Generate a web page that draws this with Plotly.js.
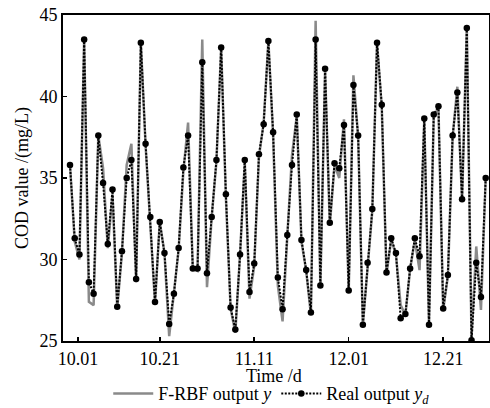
<!DOCTYPE html>
<html>
<head>
<meta charset="utf-8">
<script src="https://cdn.plot.ly/plotly-3.0.1.min.js"></script>
<style>html,body{margin:0;padding:0;background:#fff;}#chart{width:490px;height:408px;}</style>
</head>
<body>
<div id="chart"></div>
<script>
// sample index (day number from 10.01)
const days = Array.from({length: 89}, (_, i) => i);

// Real output y_d (mg/L)
const realOutput = [
  35.8, 31.3, 30.3, 43.5, 28.6, 27.9, 37.6, 34.7, 30.95, 34.3,
  27.1, 30.5, 35.0, 36.1, 28.8, 43.3, 37.1, 32.6, 27.4, 32.3,
  30.4, 26.05, 27.9, 30.7, 35.65, 37.6, 29.45, 29.45, 42.1, 29.15,
  32.6, 36.1, 43.0, 34.0, 27.05, 25.7, 30.3, 36.1, 28.0, 29.75,
  36.45, 38.3, 43.4, 37.8, 28.9, 26.95, 31.5, 35.8, 38.9, 31.2,
  29.35, 26.75, 43.5, 28.4, 41.7, 32.25, 35.9, 35.6, 38.25, 28.1,
  40.7, 37.6, 26.0, 29.8, 33.1, 43.3, 39.5, 29.2, 31.3, 30.4,
  26.4, 26.65, 29.45, 31.3, 30.2, 38.65, 26.0, 38.9, 39.4, 27.0,
  29.05, 37.6, 40.25, 33.7, 44.2, 25.05, 29.8, 27.7, 35.0
];

// F-RBF output y (mg/L)
const frbfOutput = [
  35.8, 31.1, 30.0, 43.5, 27.4, 27.2, 37.6, 35.6, 30.7, 34.0,
  27.0, 30.4, 35.8, 37.1, 28.6, 43.3, 37.0, 32.4, 27.3, 32.3,
  30.4, 25.3, 27.8, 30.6, 35.4, 38.4, 29.4, 29.3, 43.5, 28.3,
  32.6, 36.0, 43.0, 33.8, 27.0, 25.5, 30.3, 36.0, 27.6, 29.6,
  36.3, 38.4, 43.4, 37.6, 28.4, 26.2, 31.4, 36.4, 38.8, 31.1,
  29.3, 26.6, 44.65, 28.3, 41.6, 32.1, 35.8, 35.0, 38.6, 28.0,
  41.3, 37.5, 26.0, 29.5, 33.0, 43.3, 39.3, 29.1, 31.2, 30.3,
  27.2, 26.6, 29.4, 31.2, 29.35, 38.6, 26.0, 38.8, 39.3, 26.9,
  29.0, 37.5, 40.6, 33.6, 44.2, 25.2, 30.8, 26.9, 35.0
];

const tickPositions = [1.7, 19, 39, 59, 79];
const tickLabels = ['10.01', '10.21', '11.11', '12.01', '12.21'];
const yTicks = [25, 30, 35, 40, 45];
const xTitle = 'Time /d';
const yTitle = 'COD value /(mg/L)';

const serif = 'Liberation Serif, Times New Roman, serif';

const traces = [
  {
    x: days, y: frbfOutput, type: 'scatter', mode: 'lines',
    name: 'F-RBF output <i>y</i>',
    line: {color: '#8a8a8a', width: 2.5},
  },
  {
    x: days, y: realOutput, type: 'scatter', mode: 'lines+markers',
    name: 'Real output <i>y</i><sub><i>d</i></sub>',
    line: {color: '#000000', width: 2, dash: '2px,1.5px'},
    marker: {color: '#000000', size: 6.5, symbol: 'circle'},
  }
];

const layout = {
  width: 490, height: 408,
  margin: {l: 63, r: 1, t: 15, b: 67},
  paper_bgcolor: '#ffffff', plot_bgcolor: '#ffffff',
  font: {family: serif, size: 18, color: '#000'},
  showlegend: true,
  legend: {
    orientation: 'h', xref: 'paper', x: 0.49, xanchor: 'center',
    yref: 'container', y: 0.035, yanchor: 'middle',
    font: {family: serif, size: 18, color: '#000'},
    bgcolor: 'rgba(0,0,0,0)', itemwidth: 40, tracegroupgap: 0,
  },
  annotations: [{
    text: xTitle, xref: 'paper', yref: 'paper', x: 0.495, y: -0.108,
    xanchor: 'center', yanchor: 'middle', showarrow: false,
    font: {family: serif, size: 18, color: '#000'},
  }],
  xaxis: {
    range: [-1.48, 88.7],
    tickmode: 'array', tickvals: tickPositions, ticktext: tickLabels,
    ticks: 'inside', ticklen: 4, tickwidth: 1.5, tickcolor: '#000',
    showline: true, linecolor: '#000', linewidth: 2, mirror: true,
    showgrid: false, zeroline: false,
    tickfont: {family: serif, size: 18, color: '#000'},
  },
  yaxis: {
    range: [25, 45],
    tickmode: 'array', tickvals: yTicks,
    ticks: 'inside', ticklen: 4, tickwidth: 1.5, tickcolor: '#000',
    showline: true, linecolor: '#000', linewidth: 2, mirror: true,
    showgrid: false, zeroline: false,
    tickfont: {family: serif, size: 18, color: '#000'},
    title: {text: yTitle, font: {family: serif, size: 18, color: '#000'}, standoff: 6},
  },
};

Plotly.newPlot('chart', traces, layout, {displayModeBar: false, staticPlot: true});
</script>
</body>
</html>
